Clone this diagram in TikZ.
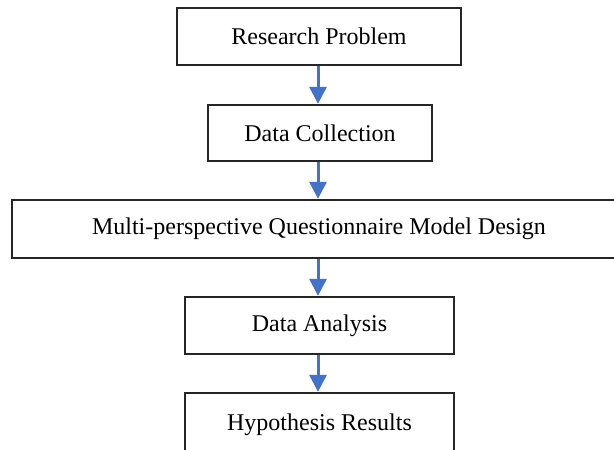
\documentclass[tikz,border=0pt]{standalone}
\usepackage{fontspec}
\setmainfont{Liberation Serif}
\usetikzlibrary{arrows.meta}
\definecolor{arrowblue}{HTML}{4472C4}
\definecolor{boxline}{HTML}{262626}
\tikzset{
  stepbox/.style={draw=boxline, line width=1.3pt, fill=white, rectangle, inner sep=0pt,
    font=\fontsize{24}{28}\selectfont, text=black},
  flowarrow/.style={draw=arrowblue, line width=3pt, -{Triangle[length=17pt,width=17pt]}, shorten >=0.5pt}
}
\begin{document}
\begin{tikzpicture}[x=1pt,y=-1pt]
\useasboundingbox (0,0) rectangle (614,450);
\clip (0,0) rectangle (614,450);
\node[stepbox, minimum width=284pt, minimum height=57pt] (rp) at (319,36.5) {Research Problem};
\node[stepbox, minimum width=224pt, minimum height=56pt] (dc) at (320,133) {Data Collection};
\node[stepbox, minimum width=614pt, minimum height=58pt] (mq) at (319,229) {Multi-perspective Questionnaire Model Design};
\node[stepbox, minimum width=269pt, minimum height=57pt] (da) at (319.5,325.5) {Data Analysis};
\node[stepbox, minimum width=269pt, minimum height=58pt, text depth=0pt] (hr) at (319.5,422) {Hypothesis Results};
\draw[flowarrow] (rp.south -| 318,0) -- (dc.north -| 318,0);
\draw[flowarrow] (dc.south -| 318,0) -- (mq.north -| 318,0);
\draw[flowarrow] (mq.south -| 318,0) -- (da.north -| 318,0);
\draw[flowarrow] (da.south -| 318,0) -- (hr.north -| 318,0);
\end{tikzpicture}
\end{document}
